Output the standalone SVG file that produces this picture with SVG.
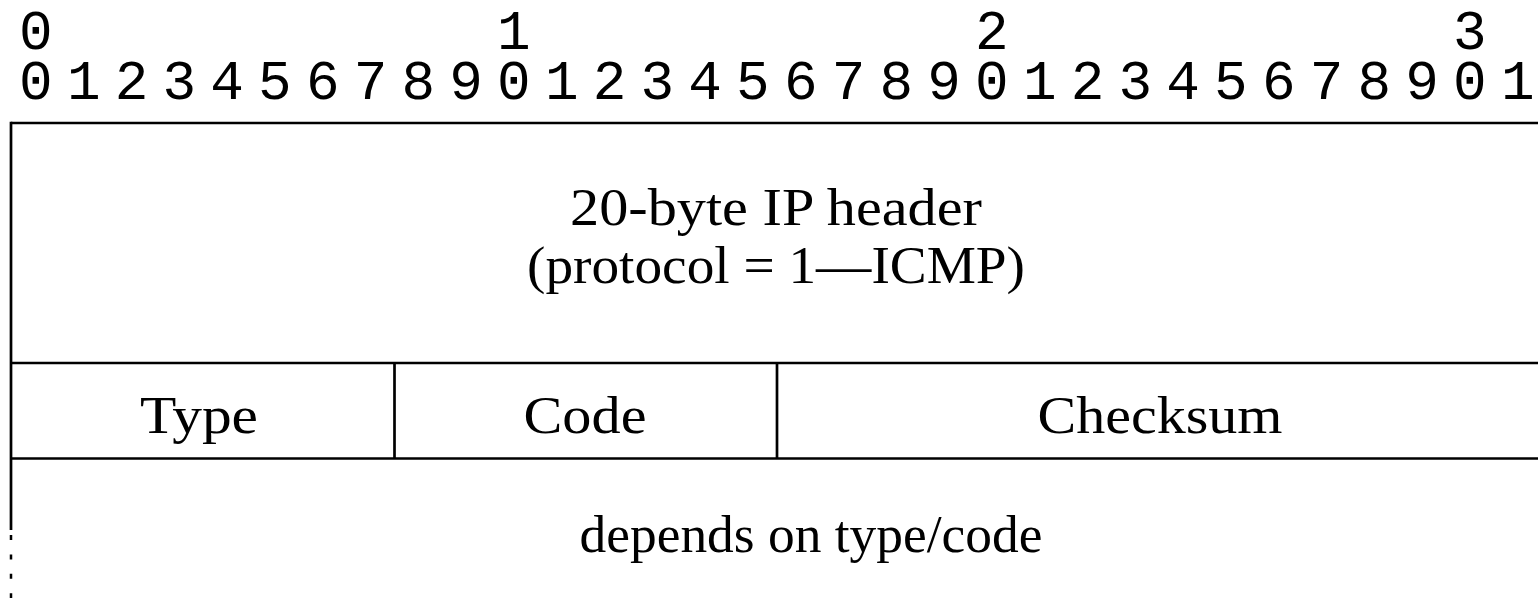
<svg xmlns="http://www.w3.org/2000/svg" width="1538" height="598" viewBox="0 0 1538 598">
  <style>
    .bits { font-family: "Liberation Mono", "DejaVu Sans Mono", monospace; font-size: 56px; fill: #000; text-anchor: middle; }
    .lbl { font-family: "Liberation Serif", "DejaVu Serif", serif; font-size: 52px; fill: #000; text-anchor: middle; }
    .ln { stroke: #000; stroke-width: 2.7; fill: none; }
    .dot { stroke: #000; stroke-width: 2.5; fill: none; stroke-dasharray: 5 14.4; }
  </style>
  <rect width="1538" height="598" fill="#fff"/>
  <g id="bit-ruler">
    <text class="bits" x="35.9 513.9 991.9 1469.9" y="49">0123</text>
    <text class="bits" x="35.9 83.7 131.5 179.3 227.1 274.9 322.7 370.5 418.3 466.1 513.9 561.7 609.5 657.3 705.1 752.9 800.7 848.5 896.3 944.1 991.9 1039.7 1087.5 1135.3 1183.1 1230.9 1278.7 1326.5 1374.3 1422.1 1469.9 1517.7" y="99">01234567890123456789012345678901</text>
  </g>
  <g id="frame">
    <line class="ln" x1="11" y1="123" x2="1538" y2="123"/>
    <line class="ln" x1="11" y1="121.7" x2="11" y2="530"/>
    <line class="dot" x1="11" y1="535" x2="11" y2="598"/>
  </g>
  <g id="ip-header">
    <text class="lbl" x="776" y="225" textLength="412" lengthAdjust="spacingAndGlyphs">20-byte IP header</text>
    <text class="lbl" x="776" y="283" textLength="498" lengthAdjust="spacingAndGlyphs">(protocol = 1—ICMP)</text>
  </g>
  <g id="row-separators">
    <line class="ln" x1="11" y1="363" x2="1538" y2="363"/>
    <line class="ln" x1="11" y1="458.5" x2="1538" y2="458.5"/>
  </g>
  <g id="type">
    <line class="ln" x1="394.5" y1="363" x2="394.5" y2="458.5"/>
    <text class="lbl" x="199" y="433" textLength="118" lengthAdjust="spacingAndGlyphs">Type</text>
  </g>
  <g id="code">
    <line class="ln" x1="777" y1="363" x2="777" y2="458.5"/>
    <text class="lbl" x="585" y="433" textLength="123" lengthAdjust="spacingAndGlyphs">Code</text>
  </g>
  <g id="checksum">
    <text class="lbl" x="1160" y="433" textLength="245" lengthAdjust="spacingAndGlyphs">Checksum</text>
  </g>
  <g id="data">
    <text class="lbl" x="811" y="552" textLength="463" lengthAdjust="spacingAndGlyphs">depends on type/code</text>
  </g>
  <g id="connectors"/>
</svg>
